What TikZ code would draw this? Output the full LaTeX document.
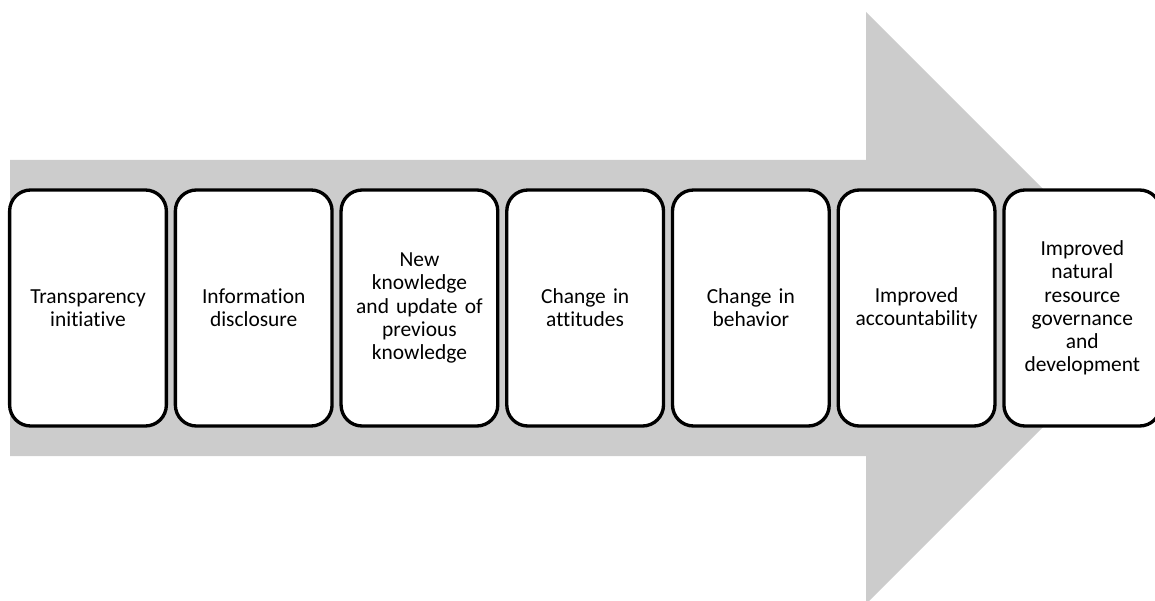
\documentclass[tikz,border=0pt]{standalone}
\usepackage{fontspec}
\setmainfont{Carlito}[RawFeature=-liga]
\usetikzlibrary{positioning}
\definecolor{arrowgrey}{HTML}{CCCCCC}

\begin{document}
\begin{tikzpicture}[font=\fontsize{12.2}{13.2}\selectfont,node distance=1.8mm,
  stage/.style={draw,line width=1.9pt,rounded corners=4.2mm,fill=white,
    minimum width=31.2mm,minimum height=47.2mm,text width=29mm,align=center,
    outer sep=0pt}]
  \useasboundingbox (0,0) rectangle (23.1,12);
  % big grey arrow behind the stages
  \fill[arrowgrey] (0.2,2.88) -- (0.2,8.8) -- (17.32,8.8) -- (17.32,11.76)
    -- (23.24,5.84) -- (17.32,-0.08) -- (17.32,2.88) -- cycle;
  \node[stage] (trans) at (1.76,5.84) {Transparency\\initiative};
  \node[stage,right=of trans] (info) {Information\\disclosure};
  \node[stage,right=of info] (know) {New\\knowledge\\and update of\\previous\\knowledge};
  \node[stage,right=of know] (att) {Change in\\attitudes};
  \node[stage,right=of att] (behav) {Change in\\behavior};
  \node[stage,right=of behav] (acc) {Improved\\accountability};
  \node[stage,right=of acc] (gov) {Improved\\natural\\resource\\governance\\and\\development};
\end{tikzpicture}
\end{document}
